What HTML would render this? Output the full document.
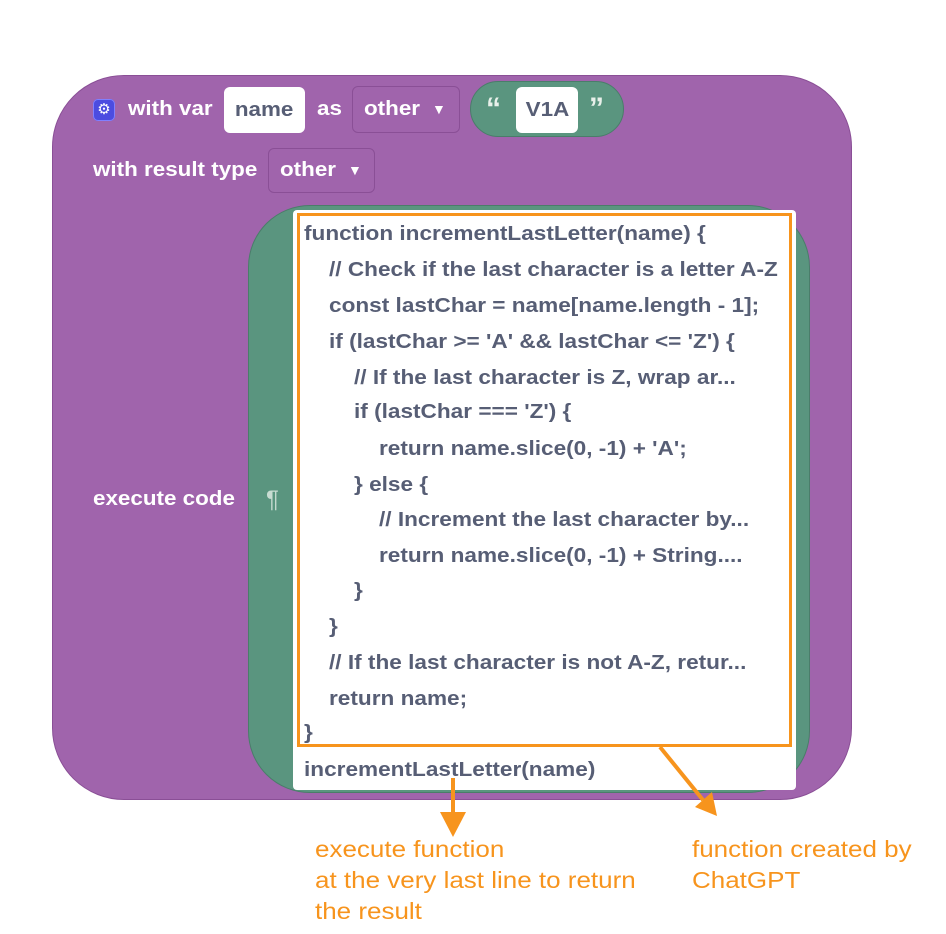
<!DOCTYPE html>
<html><head><style>
body{margin:0;width:946px;height:934px;background:#fff;position:relative;font-family:"Liberation Sans",sans-serif;overflow:hidden}
.a{position:absolute}
.s{display:inline-block;transform:scaleX(1.12);transform-origin:left center}
.w{color:#fff;font-weight:bold;font-size:20px;transform:scaleX(1.12);transform-origin:left center}
.box{position:absolute;background:#fff;border-radius:6px;color:#575e75;font-weight:bold;font-size:20px;text-align:center}
.dd{position:absolute;border:1.5px solid #8a4f96;border-radius:6px;color:#fff;font-weight:bold;font-size:20px;box-sizing:border-box}
.code{position:absolute;color:#575e75;font-weight:bold;font-size:20px;white-space:pre;line-height:20px;transform:scaleX(1.13);transform-origin:left center}
.ann{position:absolute;color:#f7941d;font-size:23px;line-height:31px;transform:scaleX(1.13);transform-origin:left top;white-space:nowrap}
</style></head><body>
<div class="a" style="left:52px;top:75px;width:800px;height:725px;background:#a064ac;border-radius:72px;border:1px solid #8a4f96;box-sizing:border-box"></div>
<div class="a" style="left:93px;top:99px;width:22px;height:22px;background:#4c4ce0;border-radius:5px;color:#fff;font-size:15px;text-align:center;line-height:22px;box-shadow:0 0 0 1px #8080ff inset">⚙</div>
<div class="a w" style="left:128px;top:98px">with var</div>
<div class="box" style="left:224px;top:87px;width:81px;height:46px;line-height:46px"><span class="s" style="transform-origin:center">name</span></div>
<div class="a w" style="left:317px;top:98px">as</div>
<div class="dd" style="left:352px;top:86px;width:108px;height:47px;line-height:45px;padding-left:11px"><span class="s">other</span><span style="font-size:14px;position:absolute;left:79px">▼</span></div>
<div class="a" style="left:470px;top:81px;width:154px;height:56px;background:#5a957f;border-radius:28px;border:1.5px solid #4a7d6a;box-sizing:border-box"></div>
<div class="a" style="left:486px;top:92px;font-size:30px;font-weight:bold;color:#e8f0ea">“</div>
<div class="box" style="left:516px;top:87px;width:62px;height:46px;line-height:46px"><span class="s" style="transform-origin:center">V1A</span></div>
<div class="a" style="left:589px;top:92px;font-size:30px;font-weight:bold;color:#e8f0ea">”</div>
<div class="a w" style="left:93px;top:159px">with result type</div>
<div class="dd" style="left:268px;top:148px;width:107px;height:45px;line-height:43px;padding-left:11px"><span class="s">other</span><span style="font-size:14px;position:absolute;left:79px">▼</span></div>
<div class="a w" style="left:93px;top:488px">execute code</div>
<div class="a" style="left:248px;top:205px;width:562px;height:588px;background:#5a957f;border-radius:62px;border:1px solid #4a7d6a;box-sizing:border-box"></div>
<div class="a" style="left:266px;top:486px;color:#c8dcd2;font-size:24px">¶</div>
<div class="a" style="left:293px;top:210px;width:503px;height:580px;background:#fff;border-radius:4px"></div>
<div class="a" style="left:297px;top:213px;width:495px;height:534px;border:3px solid #f7941d;box-sizing:border-box"></div>
<div class="code" style="left:304px;top:224px">function incrementLastLetter(name) {</div>
<div class="code" style="left:329px;top:260px">// Check if the last character is a letter A-Z</div>
<div class="code" style="left:329px;top:296px">const lastChar = name[name.length - 1];</div>
<div class="code" style="left:329px;top:332px">if (lastChar &gt;= 'A' &amp;&amp; lastChar &lt;= 'Z') {</div>
<div class="code" style="left:354px;top:368px">// If the last character is Z, wrap ar...</div>
<div class="code" style="left:354px;top:402px">if (lastChar === 'Z') {</div>
<div class="code" style="left:379px;top:439px">return name.slice(0, -1) + 'A';</div>
<div class="code" style="left:354px;top:475px">} else {</div>
<div class="code" style="left:379px;top:510px">// Increment the last character by...</div>
<div class="code" style="left:379px;top:546px">return name.slice(0, -1) + String....</div>
<div class="code" style="left:354px;top:581px">}</div>
<div class="code" style="left:329px;top:617px">}</div>
<div class="code" style="left:329px;top:653px">// If the last character is not A-Z, retur...</div>
<div class="code" style="left:329px;top:689px">return name;</div>
<div class="code" style="left:304px;top:723px">}</div>
<div class="code" style="left:304px;top:760px">incrementLastLetter(name)</div>
<svg class="a" style="left:0;top:0" width="946" height="934">
<line x1="453" y1="778" x2="453" y2="815" stroke="#f7941d" stroke-width="4"/>
<polygon points="440,812 466,812 453,837" fill="#f7941d"/>
<line x1="660" y1="747" x2="703" y2="800" stroke="#f7941d" stroke-width="4"/>
<polygon points="695,807 712,792 717,816" fill="#f7941d"/>
</svg>
<div class="ann" style="left:315px;top:834px">execute function<br>at the very last line to return<br>the result</div>
<div class="ann" style="left:692px;top:834px">function created by<br>ChatGPT</div>
</body></html>
